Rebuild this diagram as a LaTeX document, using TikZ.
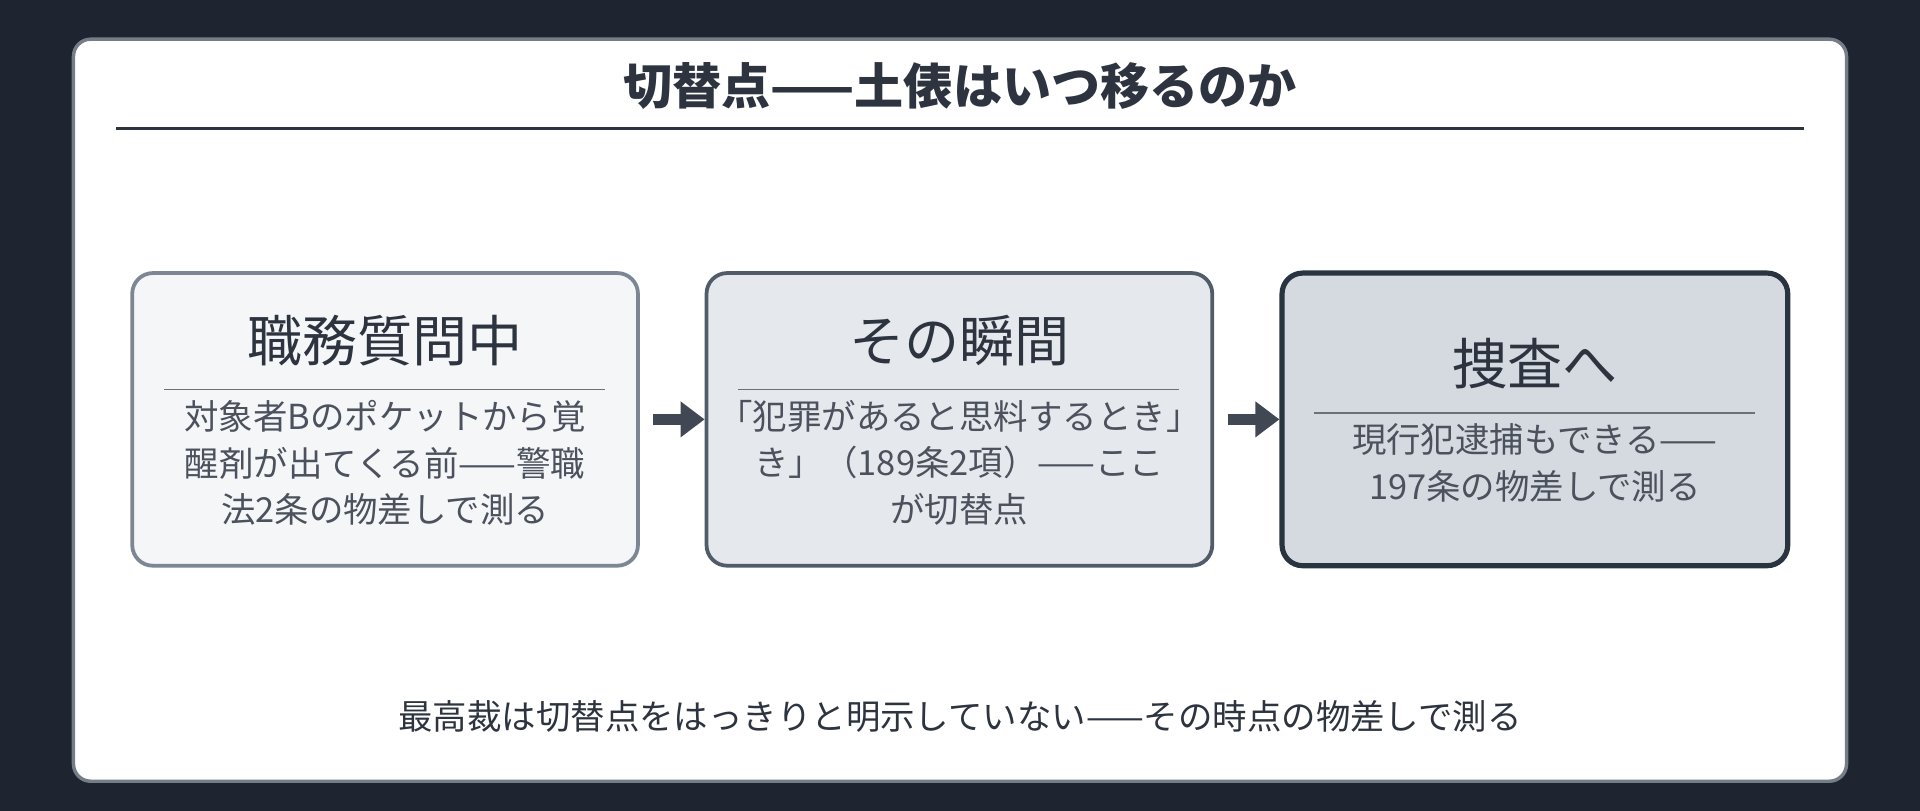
\documentclass[tikz,border=0pt]{standalone}
\usepackage{fontspec}
\newfontfamily\jp{Noto Sans CJK JP}
\usetikzlibrary{arrows.meta}
\definecolor{bg}{HTML}{1E2530}
\definecolor{ink}{HTML}{2D3440}
\definecolor{fa}{HTML}{F4F6F8}\definecolor{ba}{HTML}{7D8794}
\definecolor{fb}{HTML}{E5E8EC}\definecolor{bb}{HTML}{525C69}
\definecolor{fc}{HTML}{D5D9E0}\definecolor{bc}{HTML}{2A3340}
\begin{document}
\begin{tikzpicture}[x=0.025cm,y=-0.025cm,
  box/.style={rounded corners=12pt,line width=2.2pt,minimum width=413*0.025cm,minimum height=239*0.025cm,inner sep=0pt},
  head/.style={font=\jp\fontsize{32}{36}\selectfont,text=ink},
  body/.style={font=\jp\fontsize{20}{27}\selectfont,text=ink!85,align=center},
  sep/.style={draw=ink!70,line width=1pt},
  arr/.style={draw=ink!90,line width=6pt,-{Triangle[length=14pt,width=20pt]}}]
\fill[bg] (0,0) rectangle (1568,662);
\useasboundingbox (0,0) rectangle (1568,662);
\draw[fill=white,draw=bb!80,line width=2pt,rounded corners=10pt] (60,32) rectangle (1508,638);
\node[font=\jp\bfseries\fontsize{28.5}{32}\selectfont,text=ink] (title) at (784,70) {切替点——土俵はいつ移るのか};
\draw[ink,line width=1.3pt] (95,105) -- (1473,105);
\node[box,fill=fa,draw=ba] (b1) at (314.5,342.5) {};
\node[box,fill=fb,draw=bb] (b2) at (783.5,342.5) {};
\node[box,fill=fc,draw=bc,line width=3pt] (b3) at (1253.5,342.5) {};
\node[head] (h1) at (314.5,278) {職務質問中};
\draw[sep] (134,318) -- (494,318);
\node[body] (t1) at (314.5,378) {対象者Bのポケットから覚\\醒剤が出てくる前——警職\\法2条の物差しで測る};
\node[head] (h2) at (783.5,278) {その瞬間};
\draw[sep] (603,318) -- (963,318);
\node[body] (t2) at (783.5,378) {「犯罪があると思料するとき」\\き」（189条2項）——ここ\\が切替点};
\node[head] (h3) at (1253.5,297) {捜査へ};
\draw[sep] (1073,337) -- (1433,337);
\node[body] (t3) at (1253.5,378) {現行犯逮捕もできる——\\197条の物差しで測る};
\draw[arr] ([xshift=11*0.025cm]b1.east) -- (b2.west);
\draw[arr] ([xshift=11*0.025cm]b2.east) -- (b3.west);
\node[font=\jp\fontsize{20}{24}\selectfont,text=ink] (foot) at (784,585) {最高裁は切替点をはっきりと明示していない——その時点の物差しで測る};
\end{tikzpicture}
\end{document}
